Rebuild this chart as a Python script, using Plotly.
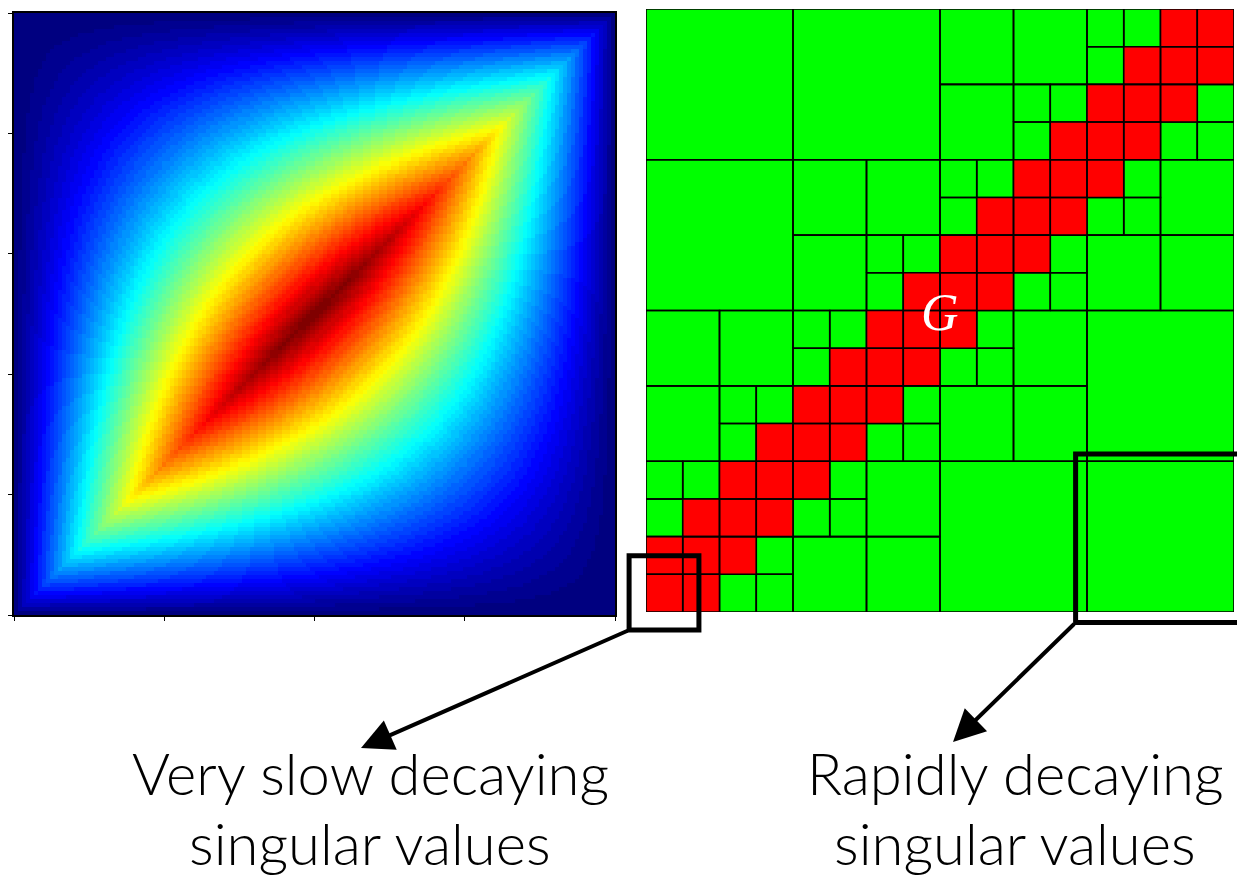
import numpy as np
import plotly.graph_objects as go

# ---------------------------------------------------------------------------
# Left panel: Green's function of -u'' = f on [0, 1] with u(0) = u(1) = 0,
# sampled on a uniform grid of cell centres.
# ---------------------------------------------------------------------------
n_nodes = 150
nodes = (np.arange(n_nodes) + 0.5) / n_nodes


def green_kernel(x, y):
    lo = np.minimum(x, y)
    hi = np.maximum(x, y)
    return lo * (1.0 - hi)


X, Y = np.meshgrid(nodes, nodes)
kernel = green_kernel(X, Y)

x_tick_vals = [0, 0.25, 0.5, 0.75, 1.0]
y_tick_vals = [0, 0.2, 0.4, 0.6, 0.8, 1.0]

# ---------------------------------------------------------------------------
# Right panel: hierarchical partition of the 16 x 16 block matrix.
# Each entry is (column, row) of the lower-left cell; rows count upwards.
# ---------------------------------------------------------------------------
n_cells = 16

lowrank_4 = [(0, 8), (0, 12), (4, 12), (8, 0), (12, 0), (12, 4)]

lowrank_2 = [
    (4, 10), (6, 10), (4, 8), (10, 4), (10, 6), (8, 4),
    (0, 6), (2, 6), (0, 4), (6, 0), (6, 2), (4, 0),
    (8, 14), (10, 14), (8, 12), (14, 8), (14, 10), (12, 8),
]

lowrank_1 = [
    (0, 2), (0, 3), (1, 3), (2, 0), (3, 0), (3, 1),
    (2, 4), (2, 5), (3, 5), (4, 2), (5, 2), (5, 3),
    (4, 6), (4, 7), (5, 7), (6, 4), (7, 4), (7, 5),
    (6, 8), (6, 9), (7, 9), (8, 6), (9, 6), (9, 7),
    (8, 10), (8, 11), (9, 11), (10, 8), (11, 8), (11, 9),
    (10, 12), (10, 13), (11, 13), (12, 10), (13, 10), (13, 11),
    (12, 14), (12, 15), (13, 15), (14, 12), (15, 12), (15, 13),
]

dense_1 = [
    (0, 0), (1, 0), (0, 1), (1, 1), (2, 1), (1, 2), (2, 2), (3, 2),
    (2, 3), (3, 3), (4, 3), (3, 4), (4, 4), (5, 4), (4, 5), (5, 5),
    (6, 5), (5, 6), (6, 6), (7, 6), (6, 7), (7, 7), (8, 7), (7, 8),
    (8, 8), (9, 8), (8, 9), (9, 9), (10, 9), (9, 10), (10, 10), (11, 10),
    (10, 11), (11, 11), (12, 11), (11, 12), (12, 12), (13, 12), (12, 13),
    (13, 13), (14, 13), (13, 14), (14, 14), (15, 14), (14, 15), (15, 15),
]

# Highlighted regions in matrix coordinates: (col0, col1, row0, row1)
near_field_box = (-0.46, 1.44, -0.48, 1.49)
far_field_box = (11.69, 16.6, -0.28, 4.19)

caption_near = ["Very slow decaying", "singular values"]
caption_far = ["Rapidly decaying", "singular values"]

# ---------------------------------------------------------------------------
# Styling / layout
# ---------------------------------------------------------------------------
W, H = 1237, 881
left_dom_x = [14 / W, 615 / W]
left_dom_y = [1 - 615 / H, 1 - 13 / H]
right_dom_x = [646 / W, 1234 / W]
right_dom_y = [1 - 612 / H, 1 - 9 / H]


def jet_colorscale(n_levels=64):
    """Discrete MATLAB-style jet colormap."""
    scale = []
    for k in range(n_levels):
        t = k / (n_levels - 1)
        r = np.clip(1.5 - abs(4 * t - 3), 0, 1)
        g = np.clip(1.5 - abs(4 * t - 2), 0, 1)
        b = np.clip(1.5 - abs(4 * t - 1), 0, 1)
        col = f"rgb({int(round(r * 255))},{int(round(g * 255))},{int(round(b * 255))})"
        scale.append([k / n_levels, col])
        scale.append([(k + 1) / n_levels, col])
    return scale


def block_polygons(blocks, size):
    xs, ys = [], []
    for c, r in blocks:
        xs += [c, c + size, c + size, c, c, None]
        ys += [r, r, r + size, r + size, r, None]
    return xs, ys


def to_paper(col, row):
    px = right_dom_x[0] + col / n_cells * (right_dom_x[1] - right_dom_x[0])
    py = right_dom_y[0] + row / n_cells * (right_dom_y[1] - right_dom_y[0])
    return px, py


fig = go.Figure()

fig.add_trace(go.Heatmap(
    z=kernel, x=nodes, y=nodes,
    colorscale=jet_colorscale(64), zmin=0, zmax=kernel.max(),
    showscale=False, hoverinfo="skip",
    xaxis="x", yaxis="y",
))

GREEN = "rgb(0,255,0)"
RED = "rgb(255,0,0)"
edge = dict(color="black", width=1.6)

gx, gy = [], []
for blocks, size in [(lowrank_4, 4), (lowrank_2, 2), (lowrank_1, 1)]:
    bx, by = block_polygons(blocks, size)
    gx += bx
    gy += by
fig.add_trace(go.Scatter(
    x=gx, y=gy, mode="lines", fill="toself", fillcolor=GREEN,
    line=edge, hoverinfo="skip", xaxis="x2", yaxis="y2", showlegend=False,
))
rx, ry = block_polygons(dense_1, 1)
fig.add_trace(go.Scatter(
    x=rx, y=ry, mode="lines", fill="toself", fillcolor=RED,
    line=edge, hoverinfo="skip", xaxis="x2", yaxis="y2", showlegend=False,
))

# Highlight boxes
shapes = []
for box in (near_field_box, far_field_box):
    x0, y0 = to_paper(box[0], box[2])
    x1, y1 = to_paper(box[1], box[3])
    shapes.append(dict(type="rect", xref="paper", yref="paper",
                       x0=x0, x1=x1, y0=y0, y1=y1,
                       line=dict(color="black", width=5), fillcolor="rgba(0,0,0,0)"))

annotations = []

# Arrows from the lower-left corner of each box to its caption
arrow_tips = [(361 / W, 1 - 748 / H), (953 / W, 1 - 742 / H)]
for box, tip in zip((near_field_box, far_field_box), arrow_tips):
    tx, ty = to_paper(box[0], box[2])
    annotations.append(dict(
        x=tip[0], y=tip[1], xref="paper", yref="paper", text="",
        showarrow=True, arrowhead=2, arrowsize=1.6, arrowwidth=4,
        arrowcolor="black",
        ax=(tx - tip[0]) * W, ay=-(ty - tip[1]) * H, axref="pixel", ayref="pixel",
    ))

caption_font = dict(family="Lato", size=58, color="black", weight=300)
for lines, cx in ((caption_near, 370 / W), (caption_far, 1015 / W)):
    for k, line in enumerate(lines):
        annotations.append(dict(
            x=cx, y=1 - (772 + 70 * k) / H, xref="paper", yref="paper",
            text=line, showarrow=False, xanchor="center", yanchor="middle",
            font=caption_font,
        ))

# Operator label on the matrix
annotations.append(dict(
    x=8, y=7.95, xref="x2", yref="y2", text="G", showarrow=False,
    font=dict(family="Liberation Serif", size=52, color="white", style="italic"),
))

fig.update_layout(
    width=W, height=H,
    margin=dict(l=0, r=0, t=0, b=0),
    paper_bgcolor="white", plot_bgcolor="white",
    showlegend=False,
    xaxis=dict(domain=left_dom_x, range=[0, 1], anchor="y",
               showline=True, mirror=True, linecolor="black", linewidth=1.5,
               ticks="outside", ticklen=4, tickwidth=1.2, tickcolor="black",
               tickvals=x_tick_vals, showticklabels=False, showgrid=False, zeroline=False),
    yaxis=dict(domain=left_dom_y, range=[0, 1], anchor="x",
               showline=True, mirror=True, linecolor="black", linewidth=1.5,
               ticks="outside", ticklen=4, tickwidth=1.2, tickcolor="black",
               tickvals=y_tick_vals, showticklabels=False, showgrid=False, zeroline=False),
    xaxis2=dict(domain=right_dom_x, range=[0, n_cells], anchor="y2", visible=False),
    yaxis2=dict(domain=right_dom_y, range=[0, n_cells], anchor="x2", visible=False),
    shapes=shapes,
    annotations=annotations,
)

fig.write_html("out.html")
